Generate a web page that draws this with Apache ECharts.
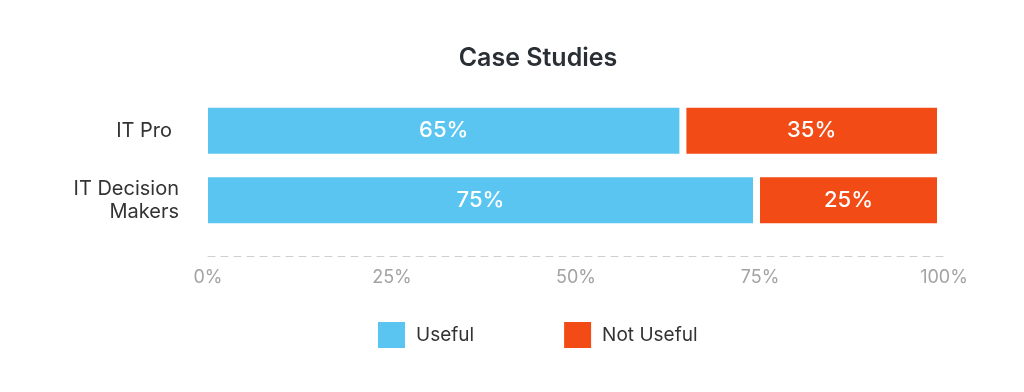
<!DOCTYPE html>
<html>
<head>
<meta charset="utf-8">
<script src="https://cdn.jsdelivr.net/npm/echarts@6/dist/echarts.min.js"></script>
<style>html,body{margin:0;padding:0;background:#fff}#c{width:1024px;height:392px}</style>
</head>
<body>
<div id="c"></div>
<script>
const categories = ['IT Pro', 'IT Decision\nMakers'];
const useful = [65, 75];
const notUseful = [35, 25];
const xTicks = [0, 25, 50, 75, 100];

const FONT = 'Inter, "Open Sans", sans-serif';
const BLUE = '#5bc5f1';
const RED = '#f34b15';

const usefulData = categories.map((c, i) => [i, 0, useful[i]]);
const notUsefulData = categories.map((c, i) => [i, useful[i], useful[i] + notUseful[i]]);

function makeRender(color) {
  return function (params, api) {
    const cat = api.value(0);
    const s = api.value(1), e = api.value(2);
    const p0 = api.coord([s, cat]);
    const p1 = api.coord([e, cat]);
    const h = 46, gap = 7;
    const w = p1[0] - p0[0] - gap;
    return {
      type: 'group',
      children: [
        { type: 'rect', shape: { x: p0[0], y: p0[1] - h / 2, width: w, height: h }, style: { fill: color } },
        { type: 'text', style: { text: Math.round(e - s) + '%', x: p0[0] + w / 2, y: p0[1], align: 'center', verticalAlign: 'middle', fill: '#fff', font: '500 22px ' + FONT } }
      ]
    };
  };
}

const chart = echarts.init(document.getElementById('c'), null, { renderer: 'canvas' });
chart.setOption({
  animation: false,
  title: {
    text: 'Case Studies', left: 538, textAlign: 'center', top: 46, padding: 0,
    textStyle: { fontFamily: FONT, fontSize: 25, fontWeight: 600, color: '#2a2f36' }
  },
  legend: {
    data: ['Useful', 'Not Useful'], top: 322, left: 378, padding: 0,
    icon: 'rect', itemWidth: 27, itemHeight: 26, itemGap: 90,
    textStyle: { fontFamily: FONT, fontSize: 19, color: '#333', padding: [0, 0, 0, 6] }
  },
  grid: { left: 208, right: 80, top: 96, height: 139, containLabel: false },
  xAxis: {
    type: 'value', min: 0, max: 100, interval: 25, offset: 21,
    axisLine: { show: true, lineStyle: { color: '#cfcfcf', type: [7, 6], width: 1 } },
    axisTick: { show: false },
    splitLine: { show: false },
    axisLabel: { formatter: v => xTicks.includes(v) ? v + '%' : '', color: '#a3a3a3', fontFamily: FONT, fontSize: 18, margin: 13 }
  },
  yAxis: {
    type: 'category', data: categories, inverse: true,
    axisLine: { show: false }, axisTick: { show: false },
    axisLabel: {
      color: '#333', fontFamily: FONT, fontSize: 20, lineHeight: 23, margin: 29, align: 'right',
      formatter: (v, i) => i === 0 ? '{a|' + v + '}' : v,
      rich: { a: { color: '#333', fontFamily: FONT, fontSize: 20, padding: [0, 7, 0, 0] } }
    }
  },
  series: [
    { name: 'Useful', type: 'custom', renderItem: makeRender(BLUE), itemStyle: { color: BLUE }, encode: { x: [1, 2], y: 0 }, data: usefulData },
    { name: 'Not Useful', type: 'custom', renderItem: makeRender(RED), itemStyle: { color: RED }, encode: { x: [1, 2], y: 0 }, data: notUsefulData }
  ]
});
</script>
</body>
</html>
